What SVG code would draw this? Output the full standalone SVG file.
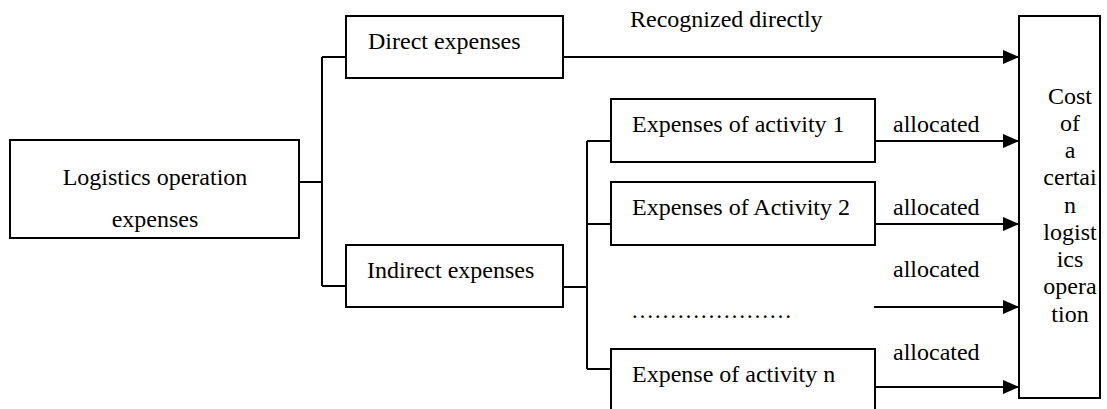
<svg xmlns="http://www.w3.org/2000/svg" width="1107" height="409" viewBox="0 0 1107 409">
<defs>
<style>
.box{fill:#fff;stroke:#000;stroke-width:2}
.ln{fill:none;stroke:#000;stroke-width:2}
.t{font-family:"Liberation Serif","Times New Roman",serif;font-size:24px;fill:#000}
.c{text-anchor:middle}
</style>
<marker id="ah" markerWidth="16" markerHeight="14" refX="16" refY="7" orient="auto" markerUnits="userSpaceOnUse">
<path d="M0,0 L16,7 L0,14 Z" fill="#000"/>
</marker>
</defs>
<rect width="1107" height="409" fill="#fff"/>
<g id="connectors">
<path class="ln" d="M299,182 H322 M322,57 V286 M322,57 H346 M322,286 H346"/>
<path class="ln" d="M563,287 H586 M587,141 V369 M587,141 H611 M587,224 H611 M587,369 H611"/>
<path class="ln" d="M563,57 H1019" marker-end="url(#ah)"/>
<path class="ln" d="M875,141 H1019" marker-end="url(#ah)"/>
<path class="ln" d="M875,224 H1019" marker-end="url(#ah)"/>
<path class="ln" d="M874,307 H1019" marker-end="url(#ah)"/>
<path class="ln" d="M875,387 H1019" marker-end="url(#ah)"/>
<text class="t" x="630" y="27">Recognized directly</text>
<text class="t" x="893" y="132">allocated</text>
<text class="t" x="893" y="215">allocated</text>
<text class="t" x="893" y="277">allocated</text>
<text class="t" x="893" y="360">allocated</text>
</g>
<g id="n-logistics">
<rect class="box" x="10" y="140" width="289" height="98"/>
<text class="t c" x="155" y="185">Logistics operation</text>
<text class="t c" x="155" y="227">expenses</text>
</g>
<g id="n-direct">
<rect class="box" x="346" y="16" width="217" height="62"/>
<text class="t" x="368" y="49">Direct expenses</text>
</g>
<g id="n-indirect">
<rect class="box" x="346" y="245" width="217" height="62"/>
<text class="t" x="367" y="278">Indirect expenses</text>
</g>
<g id="n-act1">
<rect class="box" x="611" y="99" width="264" height="63"/>
<text class="t" x="632" y="132">Expenses of activity 1</text>
</g>
<g id="n-act2">
<rect class="box" x="611" y="182" width="264" height="63"/>
<text class="t" x="632" y="215">Expenses of Activity 2</text>
</g>
<g id="n-dots">
<text class="t" x="631" y="318" style="font-size:23px">…………………</text>
</g>
<g id="n-actn">
<rect class="box" x="611" y="349" width="264" height="70"/>
<text class="t" x="632" y="382">Expense of activity n</text>
</g>
<g id="n-cost">
<rect class="box" x="1019" y="16" width="81" height="382"/>
<text class="t c" x="1070" y="104">Cost</text>
<text class="t c" x="1070" y="131">of</text>
<text class="t c" x="1070" y="158">a</text>
<text class="t c" x="1070" y="185">certai</text>
<text class="t c" x="1070" y="213">n</text>
<text class="t c" x="1070" y="240">logist</text>
<text class="t c" x="1070" y="267">ics</text>
<text class="t c" x="1070" y="294">opera</text>
<text class="t c" x="1070" y="322">tion</text>
</g>
</svg>
